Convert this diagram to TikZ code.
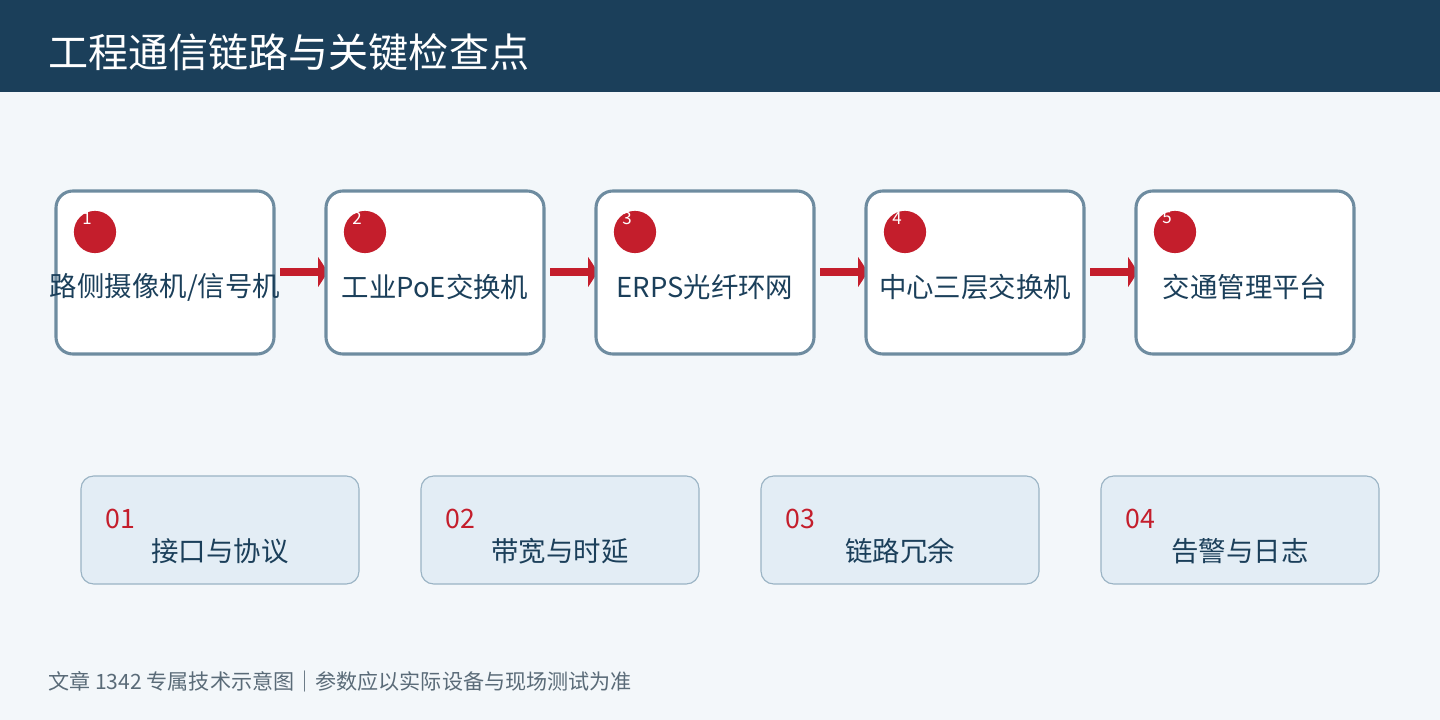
\documentclass[tikz,border=0pt]{standalone}
\usepackage{fontspec}
\setmainfont{Noto Sans CJK SC}
\usetikzlibrary{arrows.meta}
\definecolor{headblue}{HTML}{1B3F5A}
\definecolor{pagebg}{HTML}{F3F7FA}
\definecolor{stepline}{HTML}{6E8CA0}
\definecolor{stepred}{HTML}{C41E2C}
\definecolor{cardfill}{HTML}{E3EDF5}
\definecolor{cardline}{HTML}{9AB3C4}
\definecolor{footgray}{HTML}{5A6B78}
\begin{document}
\begin{tikzpicture}[x=0.025cm,y=-0.025cm]
	\tikzset{stepbox/.style = {draw=stepline, line width=2.2pt, fill=white, rounded corners=12pt}}
	\tikzset{dot/.style = {circle, fill=stepred, minimum size=30pt, inner sep=0pt}}
	\tikzset{num/.style = {text=white, font=\fontsize{12}{12}\selectfont, inner sep=0pt}}
	\tikzset{steptext/.style = {text=headblue, font=\fontsize{19.5}{19.5}\selectfont, inner sep=0pt}}
	\tikzset{card/.style = {draw=cardline, line width=0.8pt, fill=cardfill, rounded corners=9pt}}
	\tikzset{flow/.style = {draw=stepred, line width=6pt, -{Triangle[length=7pt,width=21pt]}}}

	\fill[pagebg] (0,0) rectangle (1440,720);
	\fill[headblue] (0,0) rectangle (1440,92);
	\node[anchor=west, text=white, font=\fontsize{28.5}{28.5}\selectfont, inner sep=0pt] (title) at (48,52) {工程通信链路与关键检查点};

	% arrows first, boxes cover the tips
	\foreach \i in {0,...,3} {
		\coordinate (F\i) at (280+270*\i,272);
		\coordinate (T\i) at (328+270*\i,272);
		\draw[flow] (F\i) -- (T\i);
	}

	\foreach \i/\txt in {0/{路侧摄像机/信号机},1/工业PoE交换机,2/ERPS光纤环网,3/中心三层交换机,4/交通管理平台} {
		\pgfmathtruncatemacro{\n}{\i+1}
		\draw[stepbox] (56+270*\i,191) rectangle (274+270*\i,354);
		\node[dot] (D\n) at (95+270*\i,232) {};
		\node[num] (N\n) at (87+270*\i,218) {\n};
		\node[steptext] (S\n) at (165+270*\i,287) {\txt};
	}

	\foreach \i/\txt in {0/接口与协议,1/带宽与时延,2/链路冗余,3/告警与日志} {
		\pgfmathtruncatemacro{\n}{\i+1}
		\draw[card] (81+340*\i,476) rectangle (359+340*\i,584);
		\node[anchor=west, text=stepred, font=\fontsize{19}{19}\selectfont, inner sep=0pt] (C\n) at (105+340*\i,519) {0\n};
		\node[steptext] (L\n) at (220+340*\i,551) {\txt};
	}

	\node[anchor=west, text=footgray, font=\fontsize{15}{15}\selectfont, inner sep=0pt] (foot) at (48,681) {文章 1342 专属技术示意图｜参数应以实际设备与现场测试为准};
\end{tikzpicture}
\end{document}
